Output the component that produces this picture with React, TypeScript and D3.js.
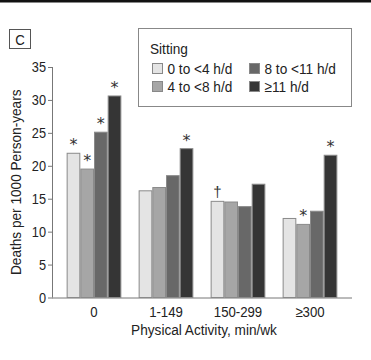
import React from "react";
import * as d3 from "d3";

const categories = ["0", "1-149", "150-299", "≥300"];
const seriesNames = ["0 to <4 h/d", "4 to <8 h/d", "8 to <11 h/d", "≥11 h/d"];
const s1 = [21.9, 16.2, 14.6, 12.0];
const s2 = [19.5, 16.7, 14.5, 11.1];
const s3 = [25.1, 18.5, 13.8, 13.1];
const s4 = [30.6, 22.6, 17.2, 21.6];
const seriesValues = [s1, s2, s3, s4];
// markers per [series][category]
const markers = [
  ["*", "", "†", ""],
  ["*", "", "", "*"],
  ["*", "", "", ""],
  ["*", "*", "", "*"],
];
const yTicks = [0, 5, 10, 15, 20, 25, 30, 35];
const colors = ["#e4e4e4", "#a6a6a6", "#686868", "#353535"];

const FONT = "'Liberation Sans Narrow', 'Arial Narrow', 'Liberation Sans', sans-serif";

function NText(props: { x: number; y: number; size: number; anchor?: string; children: React.ReactNode; rotate?: number }) {
  const { x, y, size, anchor, children, rotate } = props;
  const sx = 0.88;
  return (
    <text
      transform={`translate(${x},${y})${rotate ? ` rotate(${rotate})` : ""} scale(${sx},1)`}
      textAnchor={anchor || "start"}
      fontSize={size}
      fill="#222"
    >
      {children}
    </text>
  );
}

export default function App() {
  const W = 371, H = 360;
  const x0 = d3.scaleBand<string>().domain(categories).range([58, 346]).paddingInner(0.24).paddingOuter(0.12);
  const x1 = d3.scaleBand<number>().domain([0, 1, 2, 3]).range([0, x0.bandwidth()]).padding(0);
  const y = d3.scaleLinear().domain([0, 35]).range([297.5, 67]);
  const axisColor = "#777";
  return (
    <svg width={W} height={H} style={{ position: "absolute", left: 0, top: 0, background: "#fff" }} fontFamily={FONT}>
      <rect x={0} y={0} width={W} height={2.5} fill="#111" />
      {/* panel label */}
      <rect x={9.5} y={29.5} width={21} height={19} fill="#fff" stroke="#555" />
      <NText x={20} y={44.5} size={15} anchor="middle">C</NText>
      {/* y axis */}
      <line x1={52.5} x2={52.5} y1={y(35)} y2={y(0)} stroke={axisColor} />
      {yTicks.map((t) => (
        <g key={t}>
          <line x1={48} x2={52.5} y1={y(t) + 0.5} y2={y(t) + 0.5} stroke={axisColor} />
          <NText x={46} y={y(t) + 5} size={14.5} anchor="end">{t}</NText>
        </g>
      ))}
      <line x1={52} x2={352} y1={y(0) + 0.5} y2={y(0) + 0.5} stroke={axisColor} />
      {/* bars */}
      {categories.map((c, ci) => (
        <g key={c} transform={`translate(${x0(c)},0)`}>
          {seriesValues.map((vals, si) => {
            const bx = x1(si)!;
            const bw = x1.bandwidth();
            const v = vals[ci];
            return (
              <g key={si}>
                <rect x={bx + 0.5} y={y(v)} width={bw - 1} height={y(0) - y(v)} fill={colors[si]} stroke="#8a8a8a" strokeWidth={1} />
                {markers[si][ci] === "*" && (
                  <text x={bx + bw / 2} y={y(v) - 3} textAnchor="middle" fontSize={16} fill="#333" fontFamily="'DejaVu Sans', sans-serif">*</text>
                )}
                {markers[si][ci] === "†" && (
                  <text x={bx + bw / 2} y={y(v) - 4} textAnchor="middle" fontSize={15} fill="#333">†</text>
                )}
              </g>
            );
          })}
          <NText x={x0.bandwidth() / 2} y={316.5} size={15} anchor="middle">{c}</NText>
        </g>
      ))}
      <NText x={204} y={335} size={15.5} anchor="middle">Physical Activity, min/wk</NText>
      <NText x={20.5} y={y(17.5)} size={15.5} anchor="middle" rotate={-90}>Deaths per 1000 Person-years</NText>
      {/* legend */}
      <rect x={138.5} y={28.5} width={213} height={78} fill="#fff" stroke="#888" />
      <NText x={150} y={54} size={15.5}>Sitting</NText>
      {seriesNames.map((n, i) => {
        const col = i < 2 ? 0 : 1;
        const row = i % 2;
        const lx = col === 0 ? 152.5 : 249.5;
        const ly = 63.5 + row * 18;
        return (
          <g key={n}>
            <rect x={lx} y={ly} width={10} height={10} fill={colors[i]} stroke="#888" />
            <NText x={lx + 15} y={ly + 10.5} size={15.5}>{n}</NText>
          </g>
        );
      })}
    </svg>
  );
}
